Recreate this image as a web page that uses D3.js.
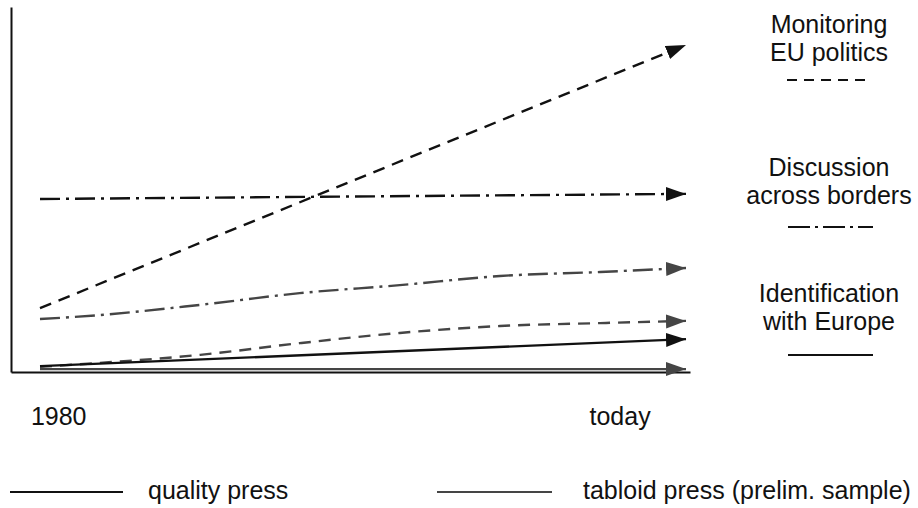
<!DOCTYPE html>
<html>
<head>
<meta charset="utf-8">
<script src="https://cdn.jsdelivr.net/npm/d3@7"></script>
<style>
  html, body { margin: 0; padding: 0; background: #fff; }
  svg { display: block; }
  text { font-family: "Liberation Sans", Arial, Helvetica, sans-serif; fill: #111; }
</style>
</head>
<body>
<svg id="chart" width="918" height="508"></svg>
<script>
// ---- data ----
const tEnds = [0, 1];
const tCurve = [0, 0.093, 0.248, 0.402, 0.557, 0.712, 0.867, 1];

const monitoringQuality = [17.5, 89.6];
const discussionQuality = [47.4, 48.8];
const identificationQuality = [1.6, 9.0];

const monitoringTabloid = [1.4, 2.5, 4.7, 7.9, 10.7, 12.6, 13.4, 14.0];
const discussionTabloid = [14.5, 15.6, 18.4, 21.6, 23.8, 26.3, 27.4, 28.5];
const identificationTabloid = [0.8, 0.8];

const tickLabels = ["1980", "today"];
const tickAt = [0.029, 0.898];

const dimensionLabels = [["Monitoring", "EU politics"], ["Discussion", "across borders"], ["Identification", "with Europe"]];
const pressLabels = ["quality press", "tabloid press (prelim. sample)"];

// ---- setup ----
const svg = d3.select("#chart");
const x = d3.scaleLinear().domain([0, 1]).range([40, 686]);
const y = d3.scaleLinear().domain([0, 100]).range([372, 7]);

const BLACK = "#111", GRAY = "#454545";
const DASH = "12,8", DASHDOT = "20,6,3,6";

const defs = svg.append("defs");
[["arrBlack", BLACK], ["arrGray", GRAY]].forEach(([id, c]) => {
  defs.append("marker")
    .attr("id", id)
    .attr("markerUnits", "userSpaceOnUse")
    .attr("markerWidth", 22).attr("markerHeight", 16)
    .attr("viewBox", "0 0 22 16")
    .attr("refX", 20).attr("refY", 7)
    .attr("orient", "auto")
    .append("path")
    .attr("d", "M0,0 L20,7 L0,14 Z")
    .attr("fill", c);
});

// axes
const axisX = d3.scaleLinear().domain([0, 1]).range([11, 690]);
const axisY = d3.scaleLinear().domain([0, 100]).range([372, 7]);
svg.append("g").attr("transform", "translate(0,372)")
  .call(d3.axisBottom(axisX).tickValues([]).tickSizeOuter(0))
  .select(".domain").attr("stroke", BLACK).attr("stroke-width", 2);
svg.append("g").attr("transform", "translate(11,0)")
  .call(d3.axisLeft(axisY).tickValues([]).tickSizeOuter(0))
  .select(".domain").attr("stroke", BLACK).attr("stroke-width", 2);

// series
const series = [
  { t: tEnds, v: identificationTabloid, color: GRAY, dash: null, marker: "arrGray", curve: d3.curveLinear },
  { t: tCurve, v: monitoringTabloid, color: GRAY, dash: DASH, marker: "arrGray", curve: d3.curveMonotoneX },
  { t: tCurve, v: discussionTabloid, color: GRAY, dash: DASHDOT, marker: "arrGray", curve: d3.curveMonotoneX },
  { t: tEnds, v: identificationQuality, color: BLACK, dash: null, marker: "arrBlack", curve: d3.curveLinear },
  { t: tEnds, v: discussionQuality, color: BLACK, dash: DASHDOT, marker: "arrBlack", curve: d3.curveLinear },
  { t: tEnds, v: monitoringQuality, color: BLACK, dash: DASH, marker: "arrBlack", curve: d3.curveLinear }
];

series.forEach(s => {
  const pts = s.t.map((t, i) => [t, s.v[i]]);
  const line = d3.line().x(d => x(d[0])).y(d => y(d[1])).curve(s.curve);
  svg.append("path")
    .attr("d", line(pts))
    .attr("fill", "none")
    .attr("stroke", s.color)
    .attr("stroke-width", 2.4)
    .attr("stroke-dasharray", s.dash)
    .attr("marker-end", `url(#${s.marker})`);
});

// x tick labels
svg.selectAll(".tick-label").data(tickLabels).enter().append("text")
  .attr("class", "tick-label")
  .attr("x", (d, i) => x(tickAt[i]))
  .attr("y", 425)
  .attr("text-anchor", "middle")
  .attr("font-size", 25)
  .text(d => d);

// right labels
const labelX = 829;
const labelTops = [33, 176, 302];
const keyY = [80, 227, 355];
const keyDash = [ "10,7", "22,5,3,5", null ];
const keyX = [[787, 865], [788, 873], [788, 873]];
dimensionLabels.forEach((lines, i) => {
  lines.forEach((l, j) => {
    svg.append("text")
      .attr("x", labelX).attr("y", labelTops[i] + j * 28)
      .attr("text-anchor", "middle")
      .attr("font-size", 25)
      .text(l);
  });
  svg.append("line")
    .attr("x1", keyX[i][0]).attr("x2", keyX[i][1])
    .attr("y1", keyY[i]).attr("y2", keyY[i])
    .attr("stroke", BLACK).attr("stroke-width", 1.8)
    .attr("stroke-dasharray", keyDash[i]);
});

// bottom legend
const legendItems = [
  { x1: 10, x2: 123, tx: 148, color: BLACK },
  { x1: 437, x2: 552, tx: 583, color: GRAY }
];
legendItems.forEach((it, i) => {
  svg.append("line")
    .attr("x1", it.x1).attr("x2", it.x2)
    .attr("y1", 492).attr("y2", 492)
    .attr("stroke", it.color).attr("stroke-width", 2.2);
  svg.append("text")
    .attr("x", it.tx).attr("y", 499)
    .attr("font-size", 25)
    .text(pressLabels[i]);
});
</script>
</body>
</html>
